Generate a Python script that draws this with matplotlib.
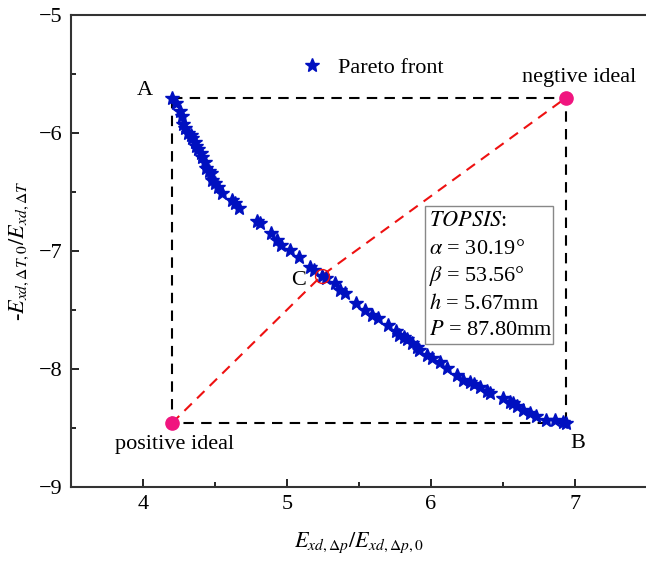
import numpy as np
import matplotlib
matplotlib.use('Agg')
from matplotlib import pyplot as plt
from matplotlib.patches import Rectangle

plt.rcParams['font.family'] = ['Liberation Serif', 'DejaVu Serif']
plt.rcParams['mathtext.fontset'] = 'stix'

# Pareto front
pareto_x = [4.20, 4.23, 4.26, 4.27, 4.28, 4.29, 4.31, 4.33, 4.34, 4.36, 4.37, 4.38,
            4.40, 4.41, 4.43, 4.44, 4.46, 4.47, 4.48, 4.50, 4.52, 4.55, 4.62, 4.64,
            4.67, 4.79, 4.81, 4.89, 4.93, 4.96, 5.02, 5.08, 5.16, 5.19, 5.24, 5.27,
            5.33, 5.37, 5.40, 5.48, 5.54, 5.59, 5.63, 5.70, 5.76, 5.78, 5.81, 5.83,
            5.87, 5.90, 5.92, 5.97, 6.01, 6.06, 6.11, 6.18, 6.22, 6.27, 6.30, 6.34,
            6.39, 6.41, 6.50, 6.55, 6.57, 6.60, 6.64, 6.69, 6.73, 6.80, 6.86, 6.92, 6.94]
pareto_y = [-5.70, -5.75, -5.81, -5.86, -5.92, -5.96, -6.00, -6.02, -6.04, -6.08, -6.11, -6.14,
            -6.17, -6.20, -6.25, -6.30, -6.32, -6.34, -6.40, -6.42, -6.46, -6.51, -6.57, -6.59,
            -6.64, -6.75, -6.76, -6.85, -6.91, -6.95, -6.99, -7.05, -7.14, -7.16, -7.21, -7.23,
            -7.27, -7.33, -7.36, -7.44, -7.50, -7.54, -7.57, -7.63, -7.68, -7.71, -7.73, -7.75,
            -7.78, -7.81, -7.84, -7.88, -7.91, -7.94, -7.99, -8.05, -8.09, -8.11, -8.13, -8.15,
            -8.19, -8.20, -8.25, -8.28, -8.29, -8.31, -8.35, -8.37, -8.40, -8.43, -8.43, -8.45, -8.46]

point_a = (4.20, -5.70)
point_b = (6.94, -8.46)
point_c = (5.24, -7.21)
pos_ideal = (4.20, -8.46)
neg_ideal = (6.94, -5.70)

topsis_lines = [r'$\it{TOPSIS}$:', r'$\alpha$ = 30.19°', r'$\beta$ = 53.56°',
                r'$h$ = 5.67mm', r'$P$ = 87.80mm']

fig = plt.figure(figsize=(6.46, 5.62), dpi=100)
ax = fig.add_axes([0.1099, 0.1335, 0.8916, 0.8399])

# dashed box between A, B and the ideals
ax.plot([point_a[0], neg_ideal[0], point_b[0]], [point_a[1], neg_ideal[1], point_b[1]],
        color='black', linestyle=(0, (5, 3.5)), linewidth=1.5, zorder=1)
ax.plot([point_a[0], pos_ideal[0], point_b[0]], [point_a[1], pos_ideal[1], point_b[1]],
        color='black', linestyle=(0, (5, 3.5)), linewidth=1.5, zorder=1)

# red line ideal -> C -> ideal
ax.plot([pos_ideal[0], point_c[0], neg_ideal[0]], [pos_ideal[1], point_c[1], neg_ideal[1]],
        color='#ee1111', linestyle=(0, (5, 3.5)), linewidth=1.5, zorder=2)

ax.plot(pareto_x, pareto_y, linestyle='none', marker='*', markersize=10.5,
        color='#0010c0', label='Pareto front', zorder=3)

ax.plot([pos_ideal[0], neg_ideal[0]], [pos_ideal[1], neg_ideal[1]], linestyle='none',
        marker='o', markersize=9.5, color='#f0157f', zorder=4)
ax.plot([point_c[0]], [point_c[1]], linestyle='none', marker='o', markersize=10,
        markerfacecolor='none', markeredgecolor='#ee1111', markeredgewidth=1.0, zorder=5)

fs = 16
ax.text(4.01, -5.636, 'A', fontsize=fs, ha='center', va='center')
ax.text(7.02, -8.63, 'B', fontsize=fs, ha='center', va='center')
ax.text(5.08, -7.25, 'C', fontsize=fs, ha='center', va='center')
ax.text(7.03, -5.53, 'negtive ideal', fontsize=fs, ha='center', va='center')
ax.text(4.22, -8.64, 'positive ideal', fontsize=fs, ha='center', va='center')

# TOPSIS result box
ax.add_patch(Rectangle((5.958, -7.788), 0.889, 1.169, facecolor='white',
                       edgecolor='#888888', linewidth=1.0, zorder=6))
for i, line in enumerate(topsis_lines):
    ax.text(5.985, -6.754 - 0.231 * i, line, fontsize=fs, ha='left', va='center', zorder=7)

ax.legend(loc='center left', bbox_to_anchor=(0.36, 0.888), frameon=False,
          fontsize=fs, handletextpad=0.6, handlelength=1.2)

ax.set_xlim(3.5, 7.5)
ax.set_ylim(-9, -5)
ax.set_xticks([4, 5, 6, 7])
ax.set_yticks([-9, -8, -7, -6, -5])
ax.set_xticks(np.arange(4.5, 7.5, 1.0), minor=True)
ax.set_yticks(np.arange(-8.5, -5, 1.0), minor=True)
ax.tick_params(which='major', direction='in', length=6, width=1.2, labelsize=fs,
               top=False, right=False, pad=6)
ax.tick_params(which='minor', direction='in', length=3.5, width=1.2, top=False, right=False)
for side in ['left', 'bottom', 'top']:
    ax.spines[side].set_linewidth(1.5)
    ax.spines[side].set_color('#333333')
ax.spines['right'].set_visible(False)

ax.set_xlabel(r'$E_{\mathit{xd},\mathit{\Delta p}}/E_{\mathit{xd},\mathit{\Delta p},\mathit{0}}$',
              fontsize=fs, labelpad=12)
ax.set_ylabel(r'-$E_{\mathit{xd},\mathit{\Delta T},\mathit{0}}/E_{\mathit{xd},\mathit{\Delta T}}$',
              fontsize=fs, labelpad=6)

fig.savefig('out.png', dpi=100)
